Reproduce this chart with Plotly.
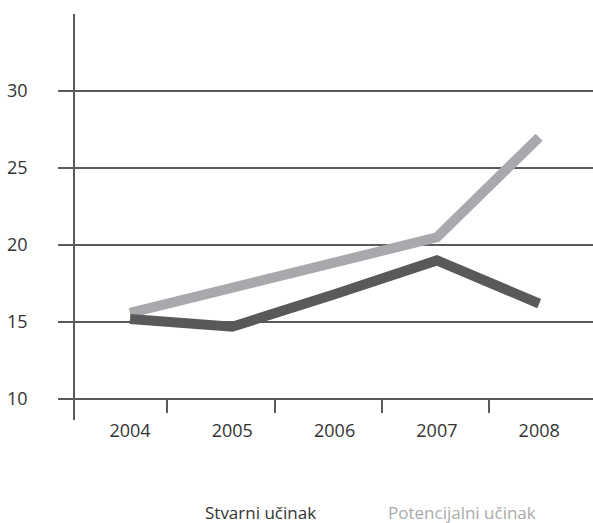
import plotly.graph_objects as go

years = ["2004", "2005", "2006", "2007", "2008"]
stvarni = [15.2, 14.7, 16.8, 19.0, 16.2]
potencijalni = [15.6, 17.2, 18.9, 20.5, 27.0]
series_names = ["Stvarni učinak", "Potencijalni učinak"]
y_ticks = [10, 15, 20, 25, 30]

DARK = "#58595b"
LIGHT = "#a7a9ac"
AXIS = "#5a5a5a"
FONT = "Open Sans"

idx = list(range(len(years)))

fig = go.Figure()
fig.add_trace(go.Scatter(x=idx, y=potencijalni, mode="lines", name=series_names[1],
                         line=dict(color=LIGHT, width=10), showlegend=False))
fig.add_trace(go.Scatter(x=idx, y=stvarni, mode="lines", name=series_names[0],
                         line=dict(color=DARK, width=10), showlegend=False))
# helper trace so the tick-mark axis is drawn
fig.add_trace(go.Scatter(x=[None], y=[None], xaxis="x2", showlegend=False, hoverinfo="skip"))

fig.update_layout(
    width=593, height=523,
    margin=dict(l=75, r=0, t=14, b=103),
    paper_bgcolor="white", plot_bgcolor="white",
    font=dict(family=FONT, size=18, color="#333333"),
    xaxis=dict(
        range=[-0.538, 4.526],
        tickvals=idx, ticktext=years,
        showgrid=False, zeroline=False, showline=False, ticks="",
        ticklabelstandoff=-2,
        tickfont=dict(size=18, color="#333333"),
    ),
    xaxis2=dict(
        overlaying="x", anchor="free", position=(420 - 399) / 406, side="bottom",
        range=[0.140, 4.967],
        tickvals=[1, 2, 3, 4], showticklabels=False,
        ticks="outside", ticklen=13, tickwidth=1.5, tickcolor=AXIS,
        showgrid=False, zeroline=False, showline=False,
    ),
    yaxis=dict(
        range=[8.64, 35.0],
        tickvals=y_ticks,
        showgrid=True, gridcolor=AXIS, gridwidth=1.5,
        zeroline=False, showline=True, linecolor=AXIS, linewidth=1.5,
        ticks="outside", ticklen=15, tickwidth=1.5, tickcolor=AXIS,
        ticklabelstandoff=27,
        tickfont=dict(size=18, color="#333333"),
    ),
)

legend_colors = ["#333333", "#aaaaaa"]
legend_x = [0.359, 0.747]
for name, col, lx in zip(series_names, legend_colors, legend_x):
    fig.add_annotation(text=name, x=lx, y=(420 - 512) / 406, xref="paper", yref="paper",
                       xanchor="center", yanchor="middle", showarrow=False, borderpad=0,
                       font=dict(family=FONT, size=17, color=col))

fig.write_html("out.html")
